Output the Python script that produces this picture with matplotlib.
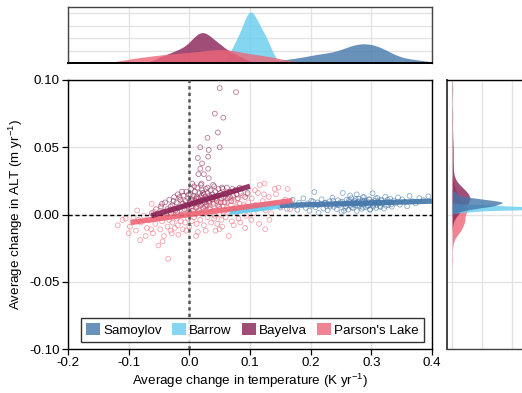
import numpy as np
import matplotlib
matplotlib.use("Agg")
import matplotlib.pyplot as plt
from matplotlib.patches import Patch

plt.rcParams['font.family'] = ['Liberation Sans', 'DejaVu Sans']
plt.rcParams['mathtext.fontset'] = 'custom'
plt.rcParams['mathtext.rm'] = 'Liberation Sans'
plt.rcParams['mathtext.it'] = 'Liberation Sans:italic'
plt.rcParams['axes.unicode_minus'] = False

# ---------------- data ----------------
sites = ["Samoylov", "Barrow", "Bayelva", "Parson's Lake"]
colors = ["#4477AA", "#66CCEE", "#882255", "#EE6677"]

sam_x = [0.142, 0.150, 0.156, 0.161, 0.165, 0.170, 0.174, 0.178, 0.181, 0.185,
         0.188, 0.192, 0.195, 0.198, 0.201, 0.203, 0.206, 0.208, 0.211, 0.213,
         0.216, 0.218, 0.221, 0.223, 0.226, 0.228, 0.231, 0.233, 0.236, 0.238,
         0.241, 0.243, 0.245, 0.247, 0.249, 0.251, 0.253, 0.255, 0.257, 0.259,
         0.261, 0.262, 0.264, 0.266, 0.267, 0.269, 0.270, 0.272, 0.273, 0.275,
         0.276, 0.278, 0.279, 0.281, 0.282, 0.284, 0.285, 0.287, 0.288, 0.290,
         0.291, 0.293, 0.295, 0.296, 0.298, 0.300, 0.302, 0.304, 0.306, 0.308,
         0.310, 0.312, 0.314, 0.316, 0.318, 0.321, 0.323, 0.326, 0.328, 0.331,
         0.334, 0.337, 0.340, 0.344, 0.347, 0.351, 0.355, 0.359, 0.363, 0.368,
         0.373, 0.379, 0.386, 0.394,
         0.244, 0.252, 0.258, 0.263, 0.268, 0.271, 0.274, 0.277, 0.280, 0.283,
         0.286, 0.289, 0.292, 0.294, 0.297, 0.299, 0.301, 0.303, 0.305, 0.307,
         0.309, 0.311, 0.313, 0.315, 0.317, 0.320, 0.324, 0.327, 0.330, 0.333,
         0.225, 0.232, 0.237, 0.212, 0.204, 0.286, 0.265, 0.298, 0.255, 0.276]
sam_y = [0.0082, 0.0051, 0.0097, 0.0043, 0.0078, 0.0109, 0.0062, 0.0035, 0.0088, 0.0071,
         0.0120, 0.0049, 0.0083, 0.0028, 0.0101, 0.0066, 0.0167, 0.0054, 0.0090, 0.0012,
         0.0077, 0.0113, 0.0045, 0.0086, 0.0063, 0.0031, 0.0098, 0.0072, 0.0125, 0.0057,
         0.0081, 0.0040, 0.0106, 0.0068, 0.0092, 0.0019, 0.0160, 0.0075, 0.0051, 0.0110,
         0.0084, 0.0036, 0.0096, 0.0065, 0.0121, 0.0079, 0.0047, 0.0101, 0.0070, 0.0088,
         0.0026, 0.0093, 0.0117, 0.0061, 0.0083, 0.0042, 0.0105, 0.0074, 0.0130, 0.0089,
         0.0055, 0.0098, 0.0067, 0.0114, 0.0038, 0.0086, 0.0158, 0.0072, 0.0101, 0.0049,
         0.0123, 0.0090, 0.0063, 0.0110, 0.0081, 0.0044, 0.0132, 0.0095, 0.0070, 0.0118,
         0.0058, 0.0104, 0.0086, 0.0127, 0.0073, 0.0112, 0.0094, 0.0061, 0.0138, 0.0099,
         0.0082, 0.0121, 0.0106, 0.0135,
         0.0072, 0.0095, 0.0061, 0.0107, 0.0054, 0.0091, 0.0115, 0.0068, 0.0098, 0.0077,
         0.0052, 0.0104, 0.0085, 0.0063, 0.0112, 0.0079, 0.0094, 0.0058, 0.0087, 0.0119,
         0.0071, 0.0099, 0.0083, 0.0056, 0.0102, 0.0088, 0.0065, 0.0109, 0.0091, 0.0074,
         0.0088, 0.0059, 0.0103, 0.0069, 0.0096, 0.0128, 0.0141, 0.0036, 0.0027, 0.0150]

bar_x = [0.068, 0.074, 0.079, 0.083, 0.086, 0.088, 0.090, 0.091, 0.093, 0.094,
         0.095, 0.096, 0.097, 0.098, 0.098, 0.099, 0.100, 0.100, 0.101, 0.102,
         0.103, 0.104, 0.105, 0.106, 0.107, 0.108, 0.110, 0.111, 0.113, 0.115,
         0.117, 0.119, 0.121, 0.123, 0.126, 0.129, 0.132, 0.136, 0.084, 0.112,
         0.071, 0.077, 0.081, 0.118, 0.124, 0.130]
bar_y = [0.0021, 0.0035, 0.0018, 0.0042, 0.0029, 0.0051, 0.0038, 0.0046, 0.0033, 0.0055,
         0.0041, 0.0048, 0.0036, 0.0052, 0.0044, 0.0047, 0.0039, 0.0058, 0.0045, 0.0050,
         0.0043, 0.0061, 0.0037, 0.0049, 0.0054, 0.0046, 0.0066, 0.0040, 0.0057, 0.0048,
         0.0069, 0.0052, 0.0063, 0.0045, 0.0072, 0.0058, 0.0076, 0.0067, 0.0025, 0.0053,
         0.0031, 0.0044, 0.0039, 0.0062, 0.0056, 0.0071]

bay_pts = [
    (0.050, 0.094), (0.077, 0.091), (0.042, 0.075), (0.056, 0.072), (0.047, 0.061),
    (0.030, 0.057), (0.050, 0.050), (0.018, 0.050), (0.032, 0.048), (0.014, 0.042),
    (0.031, 0.043), (0.021, 0.038), (0.018, 0.034), (0.031, 0.034), (0.015, 0.030),
    (0.024, 0.030), (0.032, 0.027), (0.005, 0.023), (0.020, 0.023), (0.041, 0.021),
    (0.054, 0.020),
    (-0.062, 0.001), (-0.055, 0.004), (-0.050, -0.002), (-0.047, 0.006), (-0.043, 0.002),
    (-0.040, 0.009), (-0.036, 0.004), (-0.033, 0.011), (-0.030, 0.001), (-0.028, 0.007),
    (-0.025, 0.013), (-0.023, 0.003), (-0.021, 0.009), (-0.019, 0.015), (-0.017, 0.005),
    (-0.015, 0.011), (-0.013, 0.000), (-0.011, 0.008), (-0.010, 0.014), (-0.008, 0.004),
    (-0.006, 0.010), (-0.005, 0.017), (-0.003, 0.006), (-0.002, 0.012), (0.000, 0.002),
    (0.001, 0.009), (0.002, 0.015), (0.003, 0.019), (0.004, 0.006), (0.005, 0.011),
    (0.006, 0.003), (0.007, 0.014), (0.008, 0.008), (0.009, 0.017), (0.010, 0.010),
    (0.011, 0.005), (0.012, 0.013), (0.013, 0.020), (0.014, 0.008), (0.015, 0.012),
    (0.016, 0.003), (0.017, 0.016), (0.018, 0.010), (0.019, 0.007), (0.020, 0.014),
    (0.021, 0.018), (0.022, 0.011), (0.023, 0.005), (0.024, 0.015), (0.025, 0.009),
    (0.026, 0.013), (0.027, 0.019), (0.028, 0.007), (0.029, 0.012), (0.030, 0.016),
    (0.032, 0.010), (0.033, 0.014), (0.034, 0.004), (0.035, 0.018), (0.037, 0.011),
    (0.038, 0.015), (0.040, 0.008), (0.041, 0.013), (0.043, 0.017), (0.045, 0.010),
    (0.047, 0.014), (0.049, 0.006), (0.051, 0.016), (0.053, 0.012), (0.055, 0.019),
    (0.058, 0.009), (0.060, 0.015), (0.063, 0.012), (0.066, 0.017), (0.069, 0.010),
    (0.072, 0.014), (0.076, 0.018), (0.080, 0.012), (0.085, 0.016), (0.092, 0.013),
    (-0.045, 0.008), (-0.038, 0.000), (-0.031, 0.006), (-0.026, 0.010), (-0.020, 0.002),
    (-0.016, 0.013), (-0.012, 0.017), (-0.007, 0.007), (-0.001, 0.015), (0.003, 0.010),
    (0.008, 0.021), (0.011, 0.012), (0.016, 0.009), (0.019, 0.022), (0.022, 0.016),
    (0.026, 0.006), (0.030, 0.020), (0.033, 0.009), (0.036, 0.013), (0.039, 0.022),
    (0.044, 0.012), (0.048, 0.019), (0.052, 0.009), (0.057, 0.013), (0.062, 0.020),
    (0.067, 0.013), (0.071, 0.019), (0.078, 0.015), (0.083, 0.020), (0.096, 0.016)]
bay_x = [p[0] for p in bay_pts]
bay_y = [p[1] for p in bay_pts]

par_pts = [
    (-0.081, -0.019), (-0.051, -0.023), (-0.035, -0.033), (-0.086, 0.003), (-0.062, 0.008),
    (0.124, 0.023), (0.147, 0.020), (0.162, 0.019), (0.132, -0.004), (0.125, -0.011),
    (0.065, -0.016), (0.050, -0.011), (0.077, 0.018), (0.092, -0.010), (0.014, -0.013),
    (0.043, -0.012), (-0.029, -0.014), (-0.063, -0.011), (0.116, 0.022), (-0.110, -0.004),
    (-0.118, -0.008), (-0.105, -0.003), (-0.098, -0.009), (-0.092, -0.002), (-0.088, -0.012),
    (-0.080, -0.006), (-0.075, -0.001), (-0.070, -0.010), (-0.066, -0.004), (-0.060, -0.014),
    (-0.056, -0.007), (-0.052, 0.001), (-0.048, -0.011), (-0.045, -0.005), (-0.042, -0.016),
    (-0.039, -0.002), (-0.036, -0.009), (-0.033, -0.004), (-0.031, -0.012), (-0.028, -0.006),
    (-0.026, 0.002), (-0.024, -0.010), (-0.021, -0.003), (-0.019, -0.008), (-0.016, 0.003),
    (-0.014, -0.005), (-0.011, -0.011), (-0.009, 0.000), (-0.007, -0.006), (-0.004, 0.004),
    (-0.002, -0.003), (0.000, -0.009), (0.002, 0.001), (0.004, -0.005), (0.006, 0.006),
    (0.008, -0.002), (0.010, 0.003), (0.012, -0.007), (0.014, 0.002), (0.016, 0.007),
    (0.018, -0.004), (0.020, 0.001), (0.022, 0.005), (0.024, -0.008), (0.026, 0.003),
    (0.028, 0.008), (0.030, -0.002), (0.032, 0.004), (0.034, 0.010), (0.036, -0.006),
    (0.038, 0.002), (0.040, 0.006), (0.041, -0.003), (0.043, 0.011), (0.044, 0.003),
    (0.046, -0.007), (0.047, 0.007), (0.049, 0.000), (0.050, 0.004), (0.052, 0.012),
    (0.053, -0.004), (0.055, 0.006), (0.056, 0.002), (0.058, 0.009), (0.060, -0.002),
    (0.062, 0.005), (0.064, 0.013), (0.066, 0.001), (0.068, 0.007), (0.070, -0.005),
    (0.072, 0.004), (0.074, 0.010), (0.076, 0.002), (0.078, 0.006), (0.081, -0.003),
    (0.083, 0.008), (0.086, 0.003), (0.088, 0.014), (0.091, 0.005), (0.094, -0.001),
    (0.097, 0.009), (0.100, 0.004), (0.103, 0.012), (0.106, 0.001), (0.109, 0.007),
    (0.113, 0.016), (0.117, 0.005), (0.121, 0.010), (0.126, 0.003), (0.131, 0.013),
    (0.137, 0.008), (0.143, 0.015), (0.150, 0.006), (0.158, 0.011), (0.166, 0.004),
    (-0.012, 0.009), (0.026, 0.013), (-0.046, 0.005), (0.060, 0.016), (0.008, 0.011),
    (-0.100, -0.014), (-0.084, -0.004), (-0.072, -0.016), (-0.058, 0.002), (-0.044, -0.020),
    (-0.030, 0.003), (-0.018, -0.015), (-0.005, -0.012), (0.003, 0.008), (0.011, -0.016),
    (0.019, 0.010), (0.027, -0.012), (0.035, 0.005), (0.042, -0.001), (0.048, 0.009),
    (0.054, -0.009), (0.059, 0.003), (0.063, 0.009), (0.069, 0.012), (0.073, -0.008),
    (0.079, 0.011), (0.084, -0.006), (0.089, 0.007), (0.096, 0.015), (0.102, -0.004),
    (0.108, 0.018), (0.115, -0.007), (0.123, 0.015), (0.135, 0.001), (0.141, 0.019)]
par_x = [p[0] for p in par_pts]
par_y = [p[1] for p in par_pts]

# trend lines: (x0, y0, x1, y1)
trend_sam = (0.149, 0.0067, 0.400, 0.0099)
trend_bar = (0.066, 0.0017, 0.149, 0.0062)
trend_bay = (-0.063, -0.0010, 0.100, 0.0210)
trend_par = (-0.097, -0.0060, 0.170, 0.0104)

xs = [sam_x, bar_x, bay_x, par_x]
ys = [sam_y, bar_y, bay_y, par_y]
trends = [trend_sam, trend_bar, trend_bay, trend_par]

x_ticks = [-0.2, -0.1, 0.0, 0.1, 0.2, 0.3, 0.4]
x_ticklabels = ["-0.2", "-0.1", "0.0", "0.1", "0.2", "0.3", "0.4"]
y_ticks = [-0.10, -0.05, 0.0, 0.05, 0.10]
y_ticklabels = ["-0.10", "-0.05", "0.00", "0.05", "0.10"]


def kde(v, grid, adjust=1.0):
    v = np.asarray(v)
    bw = v.std(ddof=1) * len(v) ** (-0.2) * adjust
    z = (grid[:, None] - v[None, :]) / bw
    return np.exp(-0.5 * z ** 2).sum(axis=1) / (len(v) * bw * np.sqrt(2 * np.pi))


# ---------------- figure ----------------
W, H = 522, 393
fig = plt.figure(figsize=(W / 100, H / 100), dpi=100)
ax = fig.add_axes([68 / W, 1 - 349 / H, 364 / W, 269 / H])
axt = fig.add_axes([68 / W, 1 - 63 / H, 364 / W, 56 / H])
axr = fig.add_axes([447 / W, 1 - 349 / H, 110 / W, 269 / H])

grid_c = "#e3e3e3"
FS = 9.6

# main scatter
for x, y, c in zip(xs, ys, colors):
    ax.scatter(x, y, s=12, facecolors="none", edgecolors=c, linewidths=0.6,
               alpha=0.6, zorder=3)

ax.axhline(0, color="black", lw=1.0, ls=(0, (3, 2)), zorder=4)
ax.axvline(0, color="#555555", lw=1.8, ls=(0, (1.3, 1.3)), zorder=4)

line_order = [1, 0, 3, 2]
for i in line_order:
    x0, y0, x1, y1 = trends[i]
    ax.plot([x0, x1], [y0, y1], color=colors[i], lw=3.8, alpha=0.9,
            solid_capstyle="butt", zorder=5)

ax.set_xlim(-0.2, 0.4)
ax.set_ylim(-0.1, 0.1)
ax.set_xticks(x_ticks)
ax.set_xticklabels(x_ticklabels)
ax.set_yticks(y_ticks)
ax.set_yticklabels(y_ticklabels)
ax.grid(True, color=grid_c, lw=1.0, zorder=0)
ax.set_axisbelow(True)
ax.tick_params(labelsize=FS, length=4, width=0.9, color="black", pad=2)
for s in ax.spines.values():
    s.set_color("black")
    s.set_linewidth(1.0)
ax.set_xlabel(r"Average change in temperature (K yr$^{-1}$)", fontsize=FS, labelpad=2)
ax.set_ylabel(r"Average change in ALT (m yr$^{-1}$)", fontsize=FS, labelpad=3)

handles = [Patch(facecolor=c, alpha=0.8, edgecolor="none") for c in colors]
leg = ax.legend(handles, sites, loc="lower center", bbox_to_anchor=(0.507, 0.026),
                ncol=4, fontsize=9.6, frameon=True, fancybox=False,
                handlelength=1.05, handleheight=1.05, handletextpad=0.25,
                columnspacing=0.75, borderpad=0.4, borderaxespad=0.0)
leg.get_frame().set_edgecolor("black")
leg.get_frame().set_linewidth(1.0)
leg.set_zorder(10)

# top marginal
gx = np.linspace(-0.2, 0.4, 600)
adj_x = [0.8, 1.1, 0.8, 0.8]
for i in [0, 1, 2, 3]:
    d = kde(xs[i], gx, adj_x[i])
    axt.fill_between(gx, 0, d, color=colors[i], alpha=0.8, lw=0)
axt.set_xlim(-0.2, 0.4)
axt.set_ylim(0, 22.6)
axt.set_xticks(x_ticks)
axt.set_yticks([0, 5, 10, 15, 20])
axt.grid(True, color=grid_c, lw=1.0)
axt.set_axisbelow(True)
axt.tick_params(bottom=False, left=False, labelbottom=False, labelleft=False)
for s in axt.spines.values():
    s.set_color("#444444")
    s.set_linewidth(1.0)
axt.spines["bottom"].set_color("black")
axt.spines["bottom"].set_linewidth(1.4)

# right marginal
gy = np.linspace(-0.1, 0.1, 800)
adj_y = [0.8, 0.8, 0.8, 0.8]
for i in [3, 2, 1, 0]:
    d = kde(ys[i], gy, adj_y[i])
    axr.fill_betweenx(gy, 0, d, color=colors[i], alpha=0.8, lw=0)
axr.set_ylim(-0.1, 0.1)
axr.set_xlim(-13, 265)
axr.set_xticks([0, 76, 152, 228])
axr.set_yticks(y_ticks)
axr.grid(True, color=grid_c, lw=1.0)
axr.set_axisbelow(True)
axr.tick_params(bottom=False, left=False, labelbottom=False, labelleft=False)
for s in axr.spines.values():
    s.set_color("#444444")
    s.set_linewidth(1.0)
axr.spines["left"].set_linewidth(1.4)
axr.spines["top"].set_color("black")

fig.savefig("out.png", dpi=100)
